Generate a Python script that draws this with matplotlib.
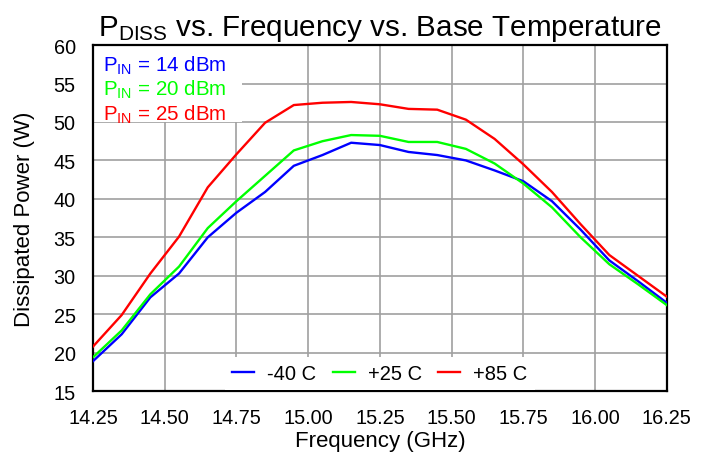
import numpy as np
import matplotlib
matplotlib.use("Agg")
import matplotlib.pyplot as plt
from matplotlib.patches import Rectangle

plt.rcParams["font.family"] = ["Liberation Sans", "DejaVu Sans"]
plt.rcParams["mathtext.fontset"] = "custom"
plt.rcParams["mathtext.rm"] = "Liberation Sans"

# frequency points, GHz
freq = [14.25, 14.35, 14.45, 14.55, 14.65, 14.75, 14.85, 14.95, 15.05, 15.15, 15.25,
        15.35, 15.45, 15.55, 15.65, 15.75, 15.85, 15.95, 16.05, 16.15, 16.25]

# dissipated power (W) per base temperature
p_m40 = [18.9, 22.4, 27.2, 30.3, 35.0, 38.2, 40.9, 44.3, 45.7, 47.3, 47.0,
         46.1, 45.7, 45.0, 43.7, 42.3, 39.7, 36.0, 32.0, 29.3, 26.5]
p_p25 = [19.4, 22.9, 27.6, 31.2, 36.2, 39.7, 43.0, 46.3, 47.5, 48.3, 48.2,
         47.4, 47.4, 46.5, 44.6, 42.0, 38.9, 35.0, 31.5, 28.9, 26.2]
p_p85 = [20.8, 24.9, 30.3, 35.1, 41.5, 45.8, 49.9, 52.2, 52.5, 52.6, 52.3,
         51.7, 51.6, 50.3, 47.8, 44.5, 40.9, 36.7, 32.7, 30.0, 27.3]

series = [("-40 C", p_m40, "#0000ff"),
          ("+25 C", p_p25, "#00ff00"),
          ("+85 C", p_p85, "#ff0000")]

pin_labels = ["14", "20", "25"]
pin_colors = ["#0000ff", "#00ff00", "#ff0000"]

xticks = [14.25, 14.50, 14.75, 15.00, 15.25, 15.50, 15.75, 16.00, 16.25]
yticks = [15, 20, 25, 30, 35, 40, 45, 50, 55, 60]

fig = plt.figure(figsize=(7.1, 4.56), dpi=100)
ax = fig.add_axes([0.131, 0.140, 0.808, 0.759])

for name, vals, col in series:
    ax.plot(freq, vals, color=col, lw=1.7, label=name, zorder=3)

ax.set_xlim(14.25, 16.25)
ax.set_ylim(15, 60)
ax.set_xticks(xticks)
ax.set_xticklabels([f"{t:.2f}" for t in xticks])
ax.set_yticks(yticks)
ax.tick_params(length=0, labelsize=14.3)
ax.tick_params(axis="x", pad=12)
ax.tick_params(axis="y", pad=12.5)
ax.grid(True, color="#a0a0a0", lw=1.2, zorder=0)
ax.set_axisbelow(True)
for s in ax.spines.values():
    s.set_linewidth(1.6)

ax.set_xlabel("Frequency (GHz)", fontsize=16, labelpad=2.5)
ax.set_ylabel("Dissipated Power (W)", fontsize=16, labelpad=13)
ax.set_title(r"$\mathregular{P_{DISS}}$ vs. Frequency vs. Base Temperature",
             fontsize=21.3, pad=7)

# white box behind P_IN notes
ax.add_patch(Rectangle((0, 0.777), 0.259, 0.223, transform=ax.transAxes,
                       facecolor="white", edgecolor="none", zorder=2))
ys = [0.926, 0.856, 0.784]
for lab, col, yy in zip(pin_labels, pin_colors, ys):
    ax.text(0.0175, yy, r"$\mathregular{P_{IN}}$ = " + lab + " dBm",
            transform=ax.transAxes, color=col, fontsize=14.8,
            ha="left", va="baseline", zorder=4)

leg = ax.legend(loc="lower center", ncol=3, fontsize=14.5, frameon=True,
                fancybox=False, edgecolor="none", facecolor="white", framealpha=1,
                handlelength=1.1, handletextpad=0.65, columnspacing=0.8,
                borderaxespad=0.05, borderpad=0.35)
leg.set_zorder(5)

fig.savefig("out.png", dpi=100)
